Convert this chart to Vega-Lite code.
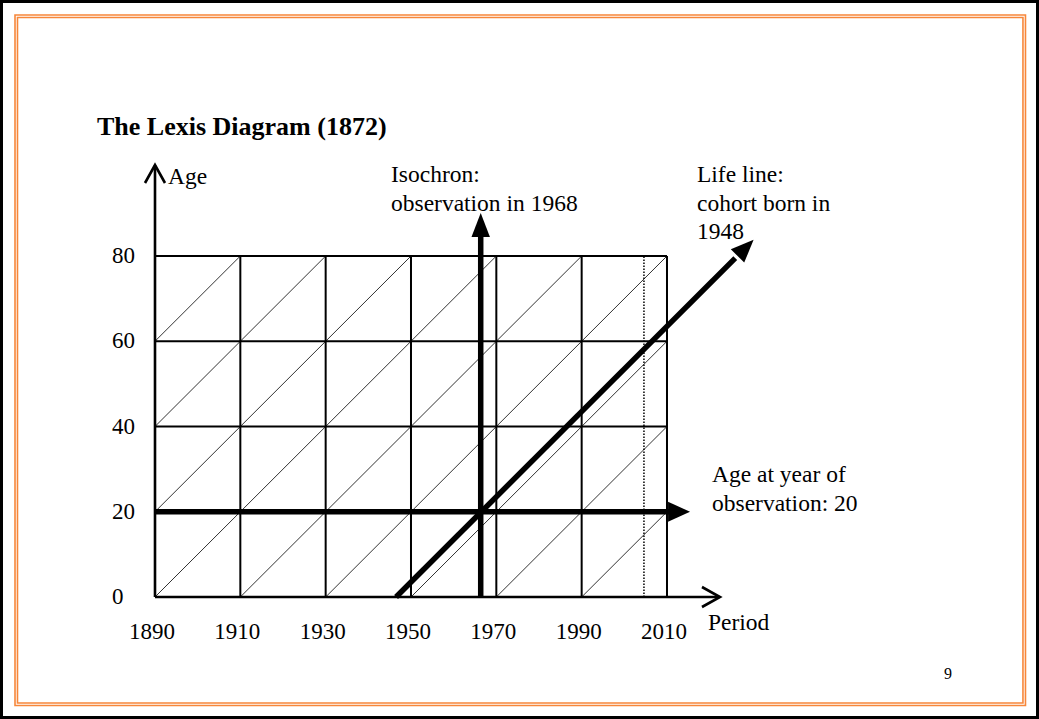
{
  "$schema": "https://vega.github.io/schema/vega-lite/v6.json",
  "width": 1039,
  "height": 719,
  "autosize": {"type": "fit", "contains": "padding"},
  "padding": 0,
  "background": "white",
  "view": {"stroke": "black", "strokeWidth": 6},
  "datasets": {
    "lines": [
      {"kind": "frame", "x": 1857.19, "x2": 2094.02, "y": 136.54, "y2": -25.45},
      {"kind": "frame", "x": 1857.77, "x2": 2093.43, "y": 135.95, "y2": -24.87},
      {"kind": "diag", "x": 1890, "y": 0, "x2": 1970, "y2": 80},
      {"kind": "diag", "x": 1910, "y": 0, "x2": 1990, "y2": 80},
      {"kind": "diag", "x": 1930, "y": 0, "x2": 2010, "y2": 80},
      {"kind": "diag", "x": 1950, "y": 0, "x2": 2010, "y2": 60},
      {"kind": "diag", "x": 1970, "y": 0, "x2": 2010, "y2": 40},
      {"kind": "diag", "x": 1990, "y": 0, "x2": 2010, "y2": 20},
      {"kind": "diag", "x": 1890, "y": 20, "x2": 1950, "y2": 80},
      {"kind": "diag", "x": 1890, "y": 40, "x2": 1930, "y2": 80},
      {"kind": "diag", "x": 1890, "y": 60, "x2": 1910, "y2": 80},
      {"kind": "dotted", "x": 2004.6, "y": 0, "x2": 2004.6, "y2": 80},
      {"kind": "grid", "x": 1910, "y": 0, "x2": 1910, "y2": 80},
      {"kind": "grid", "x": 1930, "y": 0, "x2": 1930, "y2": 80},
      {"kind": "grid", "x": 1950, "y": 0, "x2": 1950, "y2": 80},
      {"kind": "grid", "x": 1970, "y": 0, "x2": 1970, "y2": 80},
      {"kind": "grid", "x": 1990, "y": 0, "x2": 1990, "y2": 80},
      {"kind": "grid", "x": 2010, "y": 0, "x2": 2010, "y2": 80},
      {"kind": "grid", "x": 1890, "y": 20, "x2": 2010, "y2": 20},
      {"kind": "grid", "x": 1890, "y": 40, "x2": 2010, "y2": 40},
      {"kind": "grid", "x": 1890, "y": 60, "x2": 2010, "y2": 60},
      {"kind": "grid", "x": 1890, "y": 80, "x2": 2010, "y2": 80},
      {"kind": "axis", "x": 1890, "y": 0, "x2": 1890, "y2": 101.3},
      {"kind": "axis", "x": 1890, "y": 0, "x2": 2022.3, "y2": 0},
      {"kind": "thick", "x": 1966.34, "y": 0, "x2": 1966.34, "y2": 86.0},
      {"kind": "thick", "x": 1890, "y": 20, "x2": 2011.5, "y2": 20},
      {"kind": "thick", "x": 1946.5, "y": 0, "x2": 2026.0, "y2": 79.5}
    ],
    "heads": [
      {"arrow": "isochron", "x": 1966.34, "y": 90.1},
      {"arrow": "age20", "x": 2015.4, "y": 20},
      {"arrow": "lifeline", "x": 2030.3, "y": 83.8},
      {"arrow": "ageaxis", "x": 1890, "y": 101.35},
      {"arrow": "periodaxis", "x": 2022.42, "y": 0}
    ],
    "labels": [
      {"role": "title", "label": "The Lexis Diagram (1872)", "x": 1876.41, "y": 108.4},
      {"role": "note", "label": "Age", "x": 1893.05, "y": 96.9},
      {"role": "note", "label": "Isochron:\nobservation in 1968", "x": 1945.31, "y": 97.36},
      {"role": "note", "label": "Life line:\ncohort born in\n1948", "x": 2017.03, "y": 97.36},
      {"role": "note", "label": "Age at year of\nobservation: 20", "x": 2020.55, "y": 26.98},
      {"role": "note", "label": "Period", "x": 2019.61, "y": -7.74},
      {"role": "page", "label": "9", "x": 2074.92, "y": -19.24}
    ],
    "ticks": [
      {"axis": "period", "label": "1890", "x": 1890, "y": 0},
      {"axis": "period", "label": "1910", "x": 1910, "y": 0},
      {"axis": "period", "label": "1930", "x": 1930, "y": 0},
      {"axis": "period", "label": "1950", "x": 1950, "y": 0},
      {"axis": "period", "label": "1970", "x": 1970, "y": 0},
      {"axis": "period", "label": "1990", "x": 1990, "y": 0},
      {"axis": "period", "label": "2010", "x": 2010, "y": 0},
      {"axis": "age", "label": "0", "x": 1890, "y": 0},
      {"axis": "age", "label": "20", "x": 1890, "y": 20},
      {"axis": "age", "label": "40", "x": 1890, "y": 40},
      {"axis": "age", "label": "60", "x": 1890, "y": 60},
      {"axis": "age", "label": "80", "x": 1890, "y": 80}
    ]
  },
  "encoding": {
    "x": {"field": "x", "type": "quantitative", "scale": {"domain": [1853.672, 2097.19], "nice": false, "zero": false}, "axis": null},
    "y": {"field": "y", "type": "quantitative", "scale": {"domain": [-28.62, 140.06], "nice": false, "zero": false}, "axis": null}
  },
  "layer": [
    {
      "data": {"name": "lines"},
      "transform": [{"filter": "datum.kind == 'frame'"}],
      "mark": {"type": "rect", "fill": null, "fillOpacity": 0, "stroke": "#f7873a", "strokeWidth": 1.6},
      "encoding": {"x2": {"field": "x2"}, "y2": {"field": "y2"}}
    },
    {
      "data": {"name": "lines"},
      "transform": [{"filter": "datum.kind == 'diag'"}],
      "mark": {"type": "rule", "color": "#333333", "strokeWidth": 1},
      "encoding": {"x2": {"field": "x2"}, "y2": {"field": "y2"}}
    },
    {
      "data": {"name": "lines"},
      "transform": [{"filter": "datum.kind == 'dotted'"}],
      "mark": {"type": "rule", "color": "black", "strokeWidth": 1.5, "strokeDash": [1.5, 1.5]},
      "encoding": {"x2": {"field": "x2"}, "y2": {"field": "y2"}}
    },
    {
      "data": {"name": "lines"},
      "transform": [{"filter": "datum.kind == 'grid'"}],
      "mark": {"type": "rule", "color": "black", "strokeWidth": 2},
      "encoding": {"x2": {"field": "x2"}, "y2": {"field": "y2"}}
    },
    {
      "data": {"name": "lines"},
      "transform": [{"filter": "datum.kind == 'axis'"}],
      "mark": {"type": "rule", "color": "black", "strokeWidth": 2.6},
      "encoding": {"x2": {"field": "x2"}, "y2": {"field": "y2"}}
    },
    {
      "data": {"name": "lines"},
      "transform": [{"filter": "datum.kind == 'thick'"}],
      "mark": {"type": "rule", "color": "black", "strokeWidth": 5.5, "strokeCap": "butt"},
      "encoding": {"x2": {"field": "x2"}, "y2": {"field": "y2"}}
    },
    {
      "data": {"name": "heads"},
      "transform": [{"filter": "datum.arrow == 'isochron'"}],
      "mark": {"type": "point", "shape": "M0,0L1,2.6L-1,2.6Z", "size": 340, "filled": true, "fill": "black", "strokeWidth": 0, "opacity": 1, "angle": 0}
    },
    {
      "data": {"name": "heads"},
      "transform": [{"filter": "datum.arrow == 'age20'"}],
      "mark": {"type": "point", "shape": "M0,0L1,2.2L-1,2.2Z", "size": 400, "filled": true, "fill": "black", "strokeWidth": 0, "opacity": 1, "angle": 90}
    },
    {
      "data": {"name": "heads"},
      "transform": [{"filter": "datum.arrow == 'lifeline'"}],
      "mark": {"type": "point", "shape": "M0,0L1,2.4L-1,2.4Z", "size": 360, "filled": true, "fill": "black", "strokeWidth": 0, "opacity": 1, "angle": 45}
    },
    {
      "data": {"name": "heads"},
      "transform": [{"filter": "datum.arrow == 'ageaxis'"}],
      "mark": {"type": "point", "shape": "M-1,1.8L0,0L1,1.8", "size": 400, "filled": false, "stroke": "black", "strokeWidth": 2.6, "opacity": 1, "angle": 0}
    },
    {
      "data": {"name": "heads"},
      "transform": [{"filter": "datum.arrow == 'periodaxis'"}],
      "mark": {"type": "point", "shape": "M-1,1.8L0,0L1,1.8", "size": 400, "filled": false, "stroke": "black", "strokeWidth": 2.6, "opacity": 1, "angle": 90}
    },
    {
      "data": {"name": "ticks"},
      "transform": [{"filter": "datum.axis == 'period'"}],
      "mark": {"type": "text", "font": "Liberation Serif", "fontSize": 23, "align": "center", "baseline": "alphabetic", "dy": 42, "dx": -3, "color": "black"},
      "encoding": {"text": {"field": "label", "type": "nominal"}}
    },
    {
      "data": {"name": "ticks"},
      "transform": [{"filter": "datum.axis == 'age'"}],
      "mark": {"type": "text", "font": "Liberation Serif", "fontSize": 23, "align": "left", "baseline": "middle", "dx": -43, "color": "black"},
      "encoding": {"text": {"field": "label", "type": "nominal"}}
    },
    {
      "data": {"name": "labels"},
      "transform": [{"filter": "datum.role == 'title'"}],
      "mark": {"type": "text", "font": "Liberation Serif", "fontSize": 26, "fontWeight": "bold", "align": "left", "baseline": "alphabetic", "color": "black"},
      "encoding": {"text": {"field": "label", "type": "nominal"}}
    },
    {
      "data": {"name": "labels"},
      "transform": [{"filter": "datum.role == 'note'"}],
      "mark": {"type": "text", "font": "Liberation Serif", "fontSize": 23.5, "align": "left", "baseline": "alphabetic", "lineBreak": "\n", "lineHeight": 28.5, "color": "black"},
      "encoding": {"text": {"field": "label", "type": "nominal"}}
    },
    {
      "data": {"name": "labels"},
      "transform": [{"filter": "datum.role == 'page'"}],
      "mark": {"type": "text", "font": "Liberation Serif", "fontSize": 16, "align": "left", "baseline": "alphabetic", "color": "black"},
      "encoding": {"text": {"field": "label", "type": "nominal"}}
    }
  ]
}
